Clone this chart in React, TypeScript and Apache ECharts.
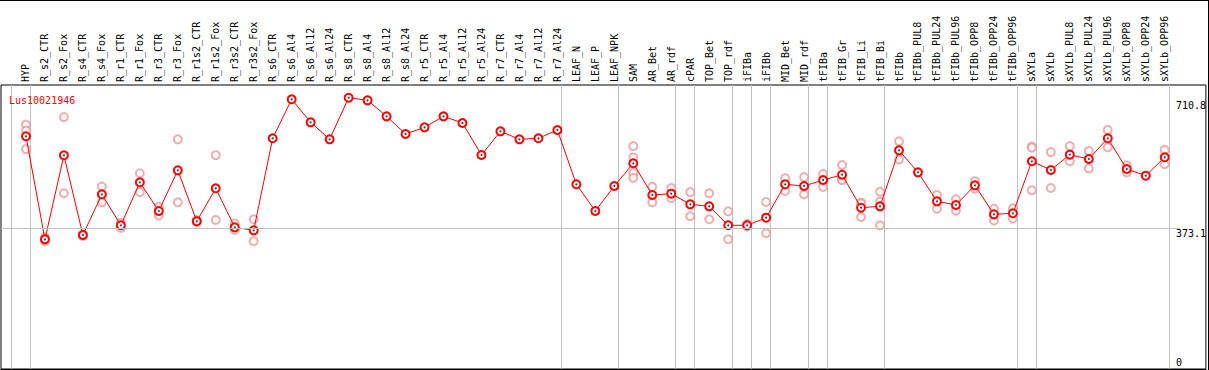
import React, { useEffect, useRef } from "react";
import * as echarts from "echarts";

const geneId = "Lus10021946";

const categories = [
  "HYP", "R_s2_CTR", "R_s2_Fox", "R_s4_CTR", "R_s4_Fox", "R_r1_CTR", "R_r1_Fox", "R_r3_CTR", "R_r3_Fox",
  "R_r1s2_CTR", "R_r1s2_Fox", "R_r3s2_CTR", "R_r3s2_Fox", "R_s6_CTR", "R_s6_Al4", "R_s6_Al12", "R_s6_Al24",
  "R_s8_CTR", "R_s8_Al4", "R_s8_Al12", "R_s8_Al24", "R_r5_CTR", "R_r5_Al4", "R_r5_Al12", "R_r5_Al24",
  "R_r7_CTR", "R_r7_Al4", "R_r7_Al12", "R_r7_Al24", "LEAF_N", "LEAF_P", "LEAF_NPK", "SAM", "AR_Bet", "AR_rdf",
  "cPAR", "TOP_Bet", "TOP_rdf", "iFIBa", "iFIBb", "MID_Bet", "MID_rdf", "tFIBa", "tFIB_Gr", "tFIB_Li", "tFIB_Bi",
  "tFIBb", "tFIBb_PUL8", "tFIBb_PUL24", "tFIBb_PUL96", "tFIBb_OPP8", "tFIBb_OPP24", "tFIBb_OPP96",
  "sXYLa", "sXYLb", "sXYLb_PUL8", "sXYLb_PUL24", "sXYLb_PUL96", "sXYLb_OPP8", "sXYLb_OPP24", "sXYLb_OPP96",
];

const meanValues = [
  617.1, 343.9, 566.7, 355.3, 463.3, 381.1, 495.1, 419.0, 526.9, 391.7, 479.2, 375.7, 367.8,
  611.8, 715.2, 654.2, 609.1, 719.4, 712.5, 670.1, 623.2, 640.9, 670.1, 652.3, 567.5, 630.3, 609.1, 611.8, 633.8,
  489.8, 419.0, 485.3, 545.5, 461.4, 464.9, 436.7, 431.4, 381.1, 381.1, 401.2, 489.8, 485.3, 501.2, 515.2, 427.7, 431.4,
  579.9, 521.6, 444.7, 434.9, 487.1, 410.2, 412.9, 550.8, 527.7, 568.3, 556.9, 611.8, 530.3, 512.6, 561.4,
];

const replicateValues: number[][] = [
  [648, 632, 583], [349, 339], [668, 466], [357, 353], [484, 442], [388, 374], [519, 469], [430, 407], [609, 442],
  [395, 390], [567, 395], [386, 369], [397, 339],
  [], [], [], [], [], [], [], [], [], [], [], [], [], [], [], [],
  [], [], [],
  [591, 561, 520, 507], [483, 442], [480, 453], [469, 405], [466, 397], [418, 344], [385, 378], [443, 360],
  [506, 472], [509, 463], [517, 483], [541, 503, 501], [441, 439, 403], [470, 444, 381],
  [604, 556], [], [461, 425], [450, 420], [498, 478], [425, 394], [426, 399],
  [590, 587, 474], [575, 480], [591, 551], [578, 532], [634, 588], [540, 521], [], [581, 543],
];

const yTickValues = [0, 373.1, 710.8];
// indices of the last category of each group; a separator follows each
const groupEnds = [-1, 0, 28, 31, 34, 35, 37, 38, 39, 41, 42, 45, 52, 53, 60];

const FONT = "DejaVu Sans Mono";

export default function App() {
  const ref = useRef<HTMLDivElement>(null);
  useEffect(() => {
    if (!ref.current) return;
    const chart = echarts.init(ref.current, null, { renderer: "svg" });
    const xMin = -1.315;
    const xMax = 62.17;
    const sepOffset = 0.23;
    const repData: number[][] = [];
    replicateValues.forEach((reps, i) => reps.forEach((v) => repData.push([i, v])));
    const meanData = meanValues.map((v, i) => [i, v]);
    chart.setOption({
      animation: false,
      backgroundColor: "#fff",
      title: {
        text: geneId,
        left: 4,
        top: 90,
        textStyle: { color: "#ff0000", fontFamily: FONT, fontSize: 10, fontWeight: "normal" },
      },
      grid: {
        left: 1, right: 1, top: 85, bottom: 1,
        show: true, borderColor: "#000", borderWidth: 1, backgroundColor: "transparent",
      },
      xAxis: {
        type: "value",
        position: "top",
        min: xMin,
        max: xMax,
        axisLine: { show: true, lineStyle: { color: "#000", width: 1 } },
        axisTick: {
          show: true,
          inside: false,
          length: 85,
          customValues: groupEnds.map((g) => g + sepOffset),
          lineStyle: { color: "#c0c0c0", width: 1 },
        },
        splitLine: { show: true, lineStyle: { color: "#c0c0c0", width: 1 } },
        axisLabel: {
          show: true,
          customValues: categories.map((_, i) => i),
          formatter: (v: number) => categories[Math.round(v)] ?? "",
          rotate: 90,
          margin: 3,
          color: "#000",
          fontFamily: FONT,
          fontSize: 10,
        },
      },
      yAxis: {
        type: "value",
        position: "right",
        min: 0,
        max: 753.1,
        axisLine: { show: false },
        axisTick: { show: false },
        splitLine: { show: false },
        axisLabel: {
          show: true,
          inside: true,
          align: "left",
          margin: 30,
          customValues: yTickValues,
          formatter: (v: number) => (v === 0 ? `{lo|0}` : `{hi|${v}}`),
          rich: {
            hi: { padding: [10, 0, 0, 0], fontFamily: FONT, fontSize: 10, color: "#000" },
            lo: { padding: [0, 0, 14, 0], fontFamily: FONT, fontSize: 10, color: "#000" },
          },
          color: "#000",
          fontFamily: FONT,
          fontSize: 10,
        },
      },
      series: [
        {
          type: "scatter",
          data: repData,
          symbol: "emptyCircle",
          symbolSize: 8,
          itemStyle: { color: "#ee9a9a", borderColor: "#ee9a9a", borderWidth: 1.5 },
          z: 2,
          markLine: {
            silent: true,
            symbol: "none",
            label: { show: false },
            lineStyle: { color: "#c0c0c0", type: "solid", width: 1 },
            data: [[{ coord: [xMin, yTickValues[1]] }, { coord: [60.8, yTickValues[1]] }]],
          },
        },
        {
          type: "line",
          data: meanData,
          symbol: "emptyCircle",
          symbolSize: 8,
          itemStyle: { color: "#ff0000", borderColor: "#ff0000", borderWidth: 1.5 },
          lineStyle: { color: "#ff0000", width: 1 },
          z: 3,
        },
        {
          type: "scatter",
          data: meanData,
          symbol: "circle",
          symbolSize: 2,
          itemStyle: { color: "#200000" },
          z: 4,
        },
      ],
      graphic: [
        { type: "line", shape: { x1: 0, y1: 0.5, x2: 1209, y2: 0.5 }, style: { stroke: "#000", lineWidth: 1 } },
        { type: "line", shape: { x1: 1208.5, y1: 0, x2: 1208.5, y2: 370 }, style: { stroke: "#000", lineWidth: 1 } },
      ],
    });
    return () => chart.dispose();
  }, []);
  return (
    <div
      ref={ref}
      style={{ position: "fixed", left: 0, top: 0, width: 1209, height: 370, background: "#fff" }}
    />
  );
}
